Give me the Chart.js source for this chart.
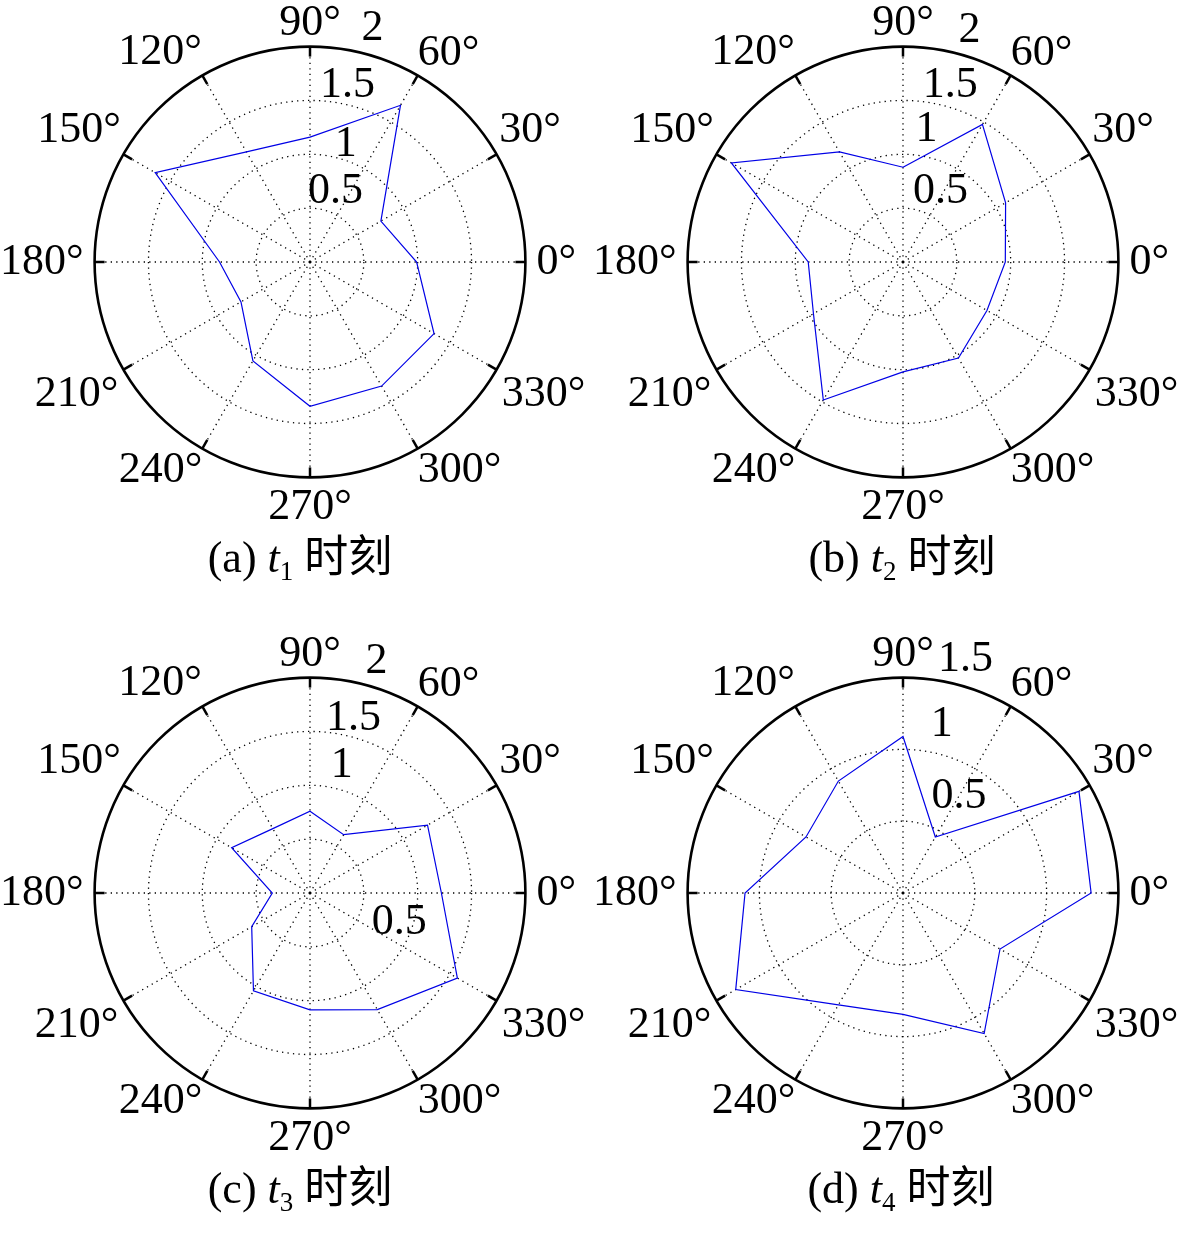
<!DOCTYPE html>
<html>
<head>
<meta charset="utf-8">
<title>polar t1-t4</title>
<script src="https://cdn.jsdelivr.net/npm/chart.js@4/dist/chart.umd.min.js"></script>
<style>
  body { margin: 0; background: #fff; }
  #page { position: relative; width: 1181px; height: 1236px; overflow: hidden; background: #fff; }
  #page canvas { position: absolute; }
  .cap { position: absolute; width: 400px; text-align: center; font: 44px/44px "Liberation Serif", "Noto Sans CJK SC", serif; color: #000; white-space: nowrap; }
  .cap .s { font-size: 27px; vertical-align: -8px; }
</style>
</head>
<body>
<div id="page">
  <canvas id="c1" width="620" height="620" style="left:-20px;top:-44px"></canvas>
  <canvas id="c2" width="620" height="620" style="left:573px;top:-44px"></canvas>
  <canvas id="c3" width="620" height="620" style="left:-20px;top:587px"></canvas>
  <canvas id="c4" width="620" height="620" style="left:573px;top:587px"></canvas>
  <div class="cap" style="left:100px;top:536px">(a) <i>t</i><span class="s">1</span> 时刻</div>
  <div class="cap" style="left:702px;top:536px">(b) <i>t</i><span class="s">2</span> 时刻</div>
  <div class="cap" style="left:100px;top:1167px">(c) <i>t</i><span class="s">3</span> 时刻</div>
  <div class="cap" style="left:701px;top:1167px">(d) <i>t</i><span class="s">4</span> 时刻</div>
</div>

<script type="text/javascript">
// directions, clockwise from the top as the radar scale draws them
var angles = ['90°', '60°', '30°', '0°', '330°', '300°', '270°', '240°', '210°', '180°', '150°', '120°']

var t1 = [1.16, 1.68, 0.76, 0.99, 1.33, 1.33, 1.34, 1.06, 0.74, 0.84, 1.66, 1.18]
var t2 = [0.88, 1.475, 1.10, 0.95, 0.90, 1.03, 1.02, 1.48, 0.96, 0.88, 1.84, 1.18]
var t3 = [0.76, 0.625, 1.26, 1.22, 1.58, 1.25, 1.085, 1.05, 0.625, 0.35, 0.84, 0.69]
var t4 = [1.09, 0.45, 1.415, 1.31, 0.78, 1.13, 0.845, 0.90, 1.345, 1.10, 0.78, 0.90]

var ticks2 = [0.5, 1, 1.5, 2]
var ticks15 = [0.5, 1, 1.5]

// where the radius labels sit: [angle in degrees, px beyond the ring]
var place1 = [[70, 21], [73, 15], [78, 19], [75, 26]]
var place2 = [[62, 26], [80, 27], [75, 21], [74, 26]]
var place3 = [[-18, 40], [76, 24], [76, 18], [74, 26]]
var place4 = [[60, 40], [77, 29], [75, 26]]

var labelPad = [1, 0, 3, 11, 6, 0, 8, 0, 6, 11, 3, 1]
var dotted = [1.3, 4.2]

// solid ticks on the outer ring and the radius labels
var polarExtras = {
  id: 'polarExtras',
  afterDraw: function(chart, args, opts) {
    var r = chart.scales.r
    var ctx = chart.ctx
    ctx.save()
    ctx.strokeStyle = '#000'
    ctx.lineWidth = 2.5
    for (var i = 0; i < chart.data.labels.length; i++) {
      var a = r.getPointPosition(i, r.drawingArea - 10)
      var b = r.getPointPosition(i, r.drawingArea)
      ctx.beginPath()
      ctx.moveTo(a.x, a.y)
      ctx.lineTo(b.x, b.y)
      ctx.stroke()
    }
    ctx.font = '44px "Liberation Serif"'
    ctx.fillStyle = '#000'
    ctx.textAlign = 'center'
    ctx.textBaseline = 'middle'
    opts.ticks.forEach(function(v, k) {
      var t = opts.place[k][0] * Math.PI / 180
      var d = r.getDistanceFromCenterForValue(v) + opts.place[k][1]
      ctx.fillText(String(v), r.xCenter + d * Math.cos(t), r.yCenter - d * Math.sin(t))
    })
    ctx.restore()
  }
}

function polar(id, values, max, ticks, place) {
  return new Chart(document.getElementById(id), {
    type: 'radar',
    data: {
      labels: angles,
      datasets: [{
        data: values,
        borderColor: '#0000e6',
        borderWidth: 1.2,
        backgroundColor: 'transparent',
        fill: false,
        pointRadius: 0,
        tension: 0
      }]
    },
    options: {
      responsive: false,
      animation: false,
      plugins: {
        legend: { display: false },
        tooltip: { enabled: false },
        polarExtras: { ticks: ticks, place: place }
      },
      scales: {
        r: {
          min: 0,
          max: max,
          ticks: { stepSize: 0.5, display: false },
          grid: {
            circular: true,
            color: '#000',
            lineWidth: function(c) { return c.tick && c.tick.value === max ? 2.6 : 1.3 }
          },
          border: {
            dash: function(c) { return c.tick && c.tick.value === max ? [] : dotted }
          },
          angleLines: { color: '#000', lineWidth: 1.3, borderDash: dotted },
          pointLabels: {
            color: '#000',
            font: { family: 'Liberation Serif', size: 44, lineHeight: 1 },
            padding: function(c) { return labelPad[c.index] }
          }
        }
      }
    },
    plugins: [polarExtras]
  })
}

polar('c1', t1, 2, ticks2, place1)
polar('c2', t2, 2, ticks2, place2)
polar('c3', t3, 2, ticks2, place3)
polar('c4', t4, 1.5, ticks15, place4)
</script>
</body>
</html>
